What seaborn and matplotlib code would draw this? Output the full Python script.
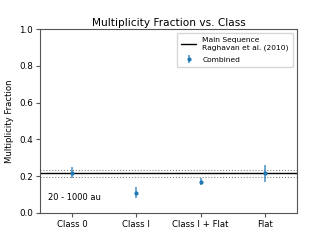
import matplotlib
matplotlib.use('Agg')
import matplotlib.pyplot as plt
import seaborn as sns
import pandas as pd

# Data
classes = ['Class 0', 'Class I', 'Class I + Flat', 'Flat']
mf = [0.22, 0.11, 0.17, 0.215]
mf_err = [0.03, 0.03, 0.02, 0.045]
ms_value = 0.216
ms_err = 0.02

df = pd.DataFrame({'cls': classes, 'mf': mf, 'err': mf_err})

sns.set_theme(style='ticks', rc={'font.size': 6, 'axes.titlesize': 7.6,
                                 'axes.labelsize': 6.1, 'xtick.labelsize': 6.1,
                                 'ytick.labelsize': 6.3, 'legend.fontsize': 5.4,
                                 'text.color': 'black', 'axes.labelcolor': 'black',
                                 'xtick.color': '#555555', 'ytick.color': '#555555',
                                 'xtick.labelcolor': 'black', 'ytick.labelcolor': 'black',
                                 'axes.edgecolor': '#555555', 'axes.linewidth': 0.8})
plt.rcParams['font.family'] = ['DejaVu Sans']

fig = plt.figure(figsize=(3.3, 2.4), dpi=100)
ax = fig.add_axes([0.121, 0.1125, 0.779, 0.7665])

x = list(range(len(classes)))
ax.axhline(ms_value, color='black', lw=1.0, label='Main Sequence\nRaghavan et al. (2010)')
ax.axhline(ms_value + ms_err, color='gray', lw=0.8, ls=':')
ax.axhline(ms_value - ms_err, color='gray', lw=0.8, ls=':')

ax.errorbar(x, df['mf'], yerr=df['err'], fmt='.', color='#1f77b4', ms=4,
            elinewidth=1.3, ecolor=(0.12, 0.47, 0.71, 0.7), capsize=0, label='Combined')

ax.set_xticks(x)
ax.set_xticklabels(classes)
ax.set_xlim(-0.5, 3.5)
ax.set_ylim(0, 1.0)
ax.set_yticks([0, 0.2, 0.4, 0.6, 0.8, 1.0])
ax.set_ylabel('Multiplicity Fraction')
ax.set_title('Multiplicity Fraction vs. Class', pad=2, color='black')
ax.text(0.03, 0.07, '20 - 1000 au', transform=ax.transAxes, fontsize=6)
ax.legend(loc='upper right', frameon=True, borderpad=0.6, labelspacing=0.75)
ax.tick_params(length=3, width=0.8, pad=2)

fig.savefig('out.png', dpi=100)
